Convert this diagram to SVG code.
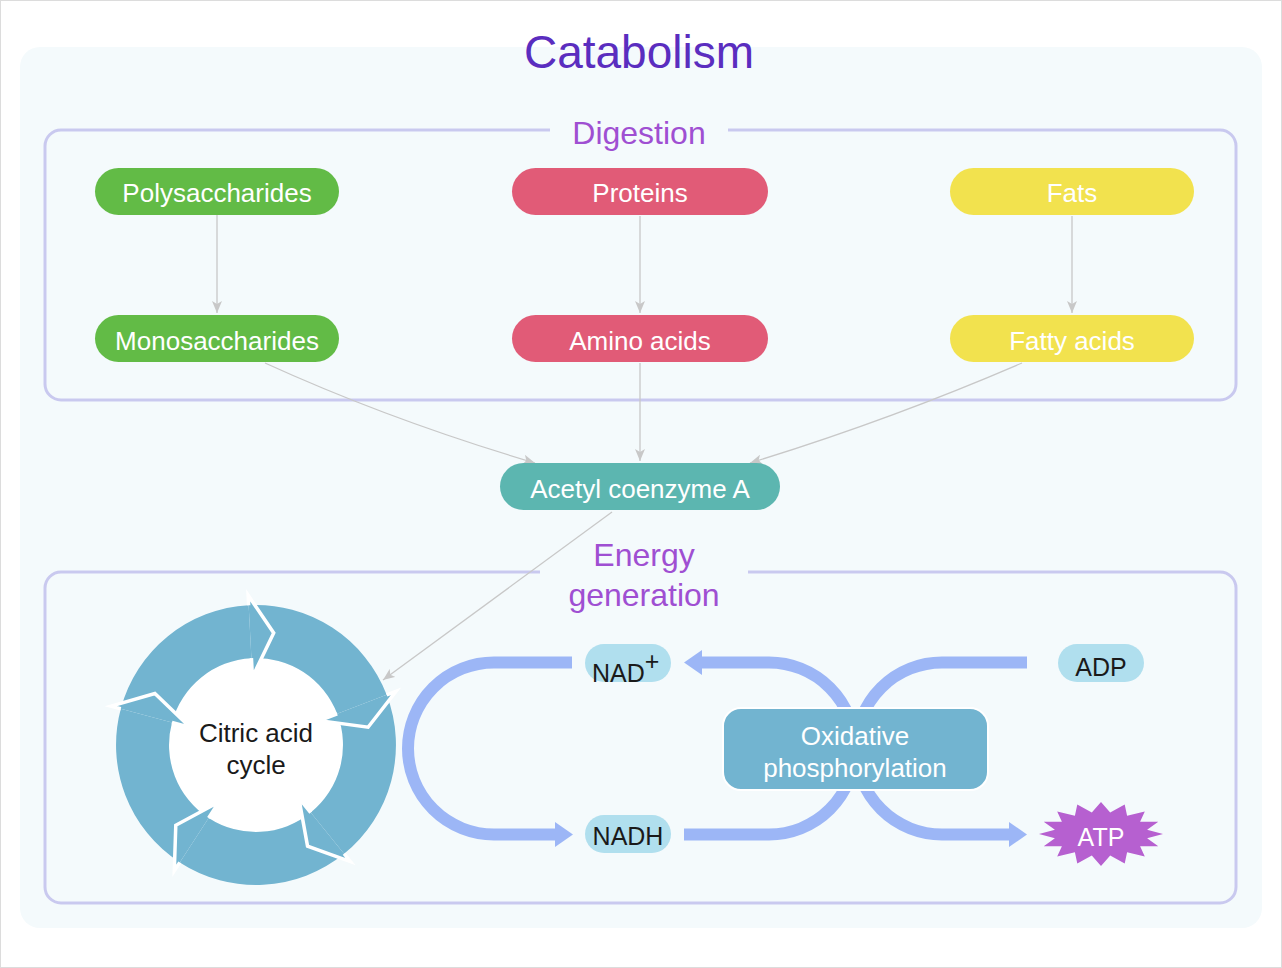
<svg xmlns="http://www.w3.org/2000/svg" xmlns:xlink="http://www.w3.org/1999/xlink" width="1282" height="968" viewBox="0 0 1282 968">
<style>
text{font-family:"Liberation Sans",Arial,sans-serif}
.nt{font-size:26px;fill:#fff;text-anchor:middle}
.bt{font-size:25px;fill:#1a1a1a}
.grp{fill:none;stroke:#c9c9ef;stroke-width:3}
.ttl{font-size:32px;fill:#9f4fd2;text-anchor:middle}
.con{fill:none;stroke:#c8c8c8;stroke-width:1.3}
.fat{fill:none;stroke:#9cb6f6;stroke-width:12}
.ah{fill:#9cb6f6}
.ring{fill:#72b4d0}
.chev{fill:none;stroke:#fff;stroke-width:3.5;stroke-linejoin:miter}
</style>
<defs>
<marker id="ga" viewBox="0 0 12 10" refX="12" refY="5" markerWidth="12" markerHeight="10" markerUnits="userSpaceOnUse" orient="auto">
<path d="M0,0 L12,5 L0,10 L3,5 Z" fill="#c8c8c8"/>
</marker>
<path id="body" d="M -29.1,-136.9 A 140 140 0 0 1 121.2,-70 L 75.3,-43.5 A 87 87 0 0 0 -18.1,-85.1 L 0,-113.5 Z"/>
<path id="head" d="M 121.2,-70 L 129.9,-75 L 107.9,-35.1 L 58.9,-34 L 75.3,-43.5 Z"/>
<path id="chev" d="M 121.2,-70 L 129.9,-75 L 107.9,-35.1 L 58.9,-34 L 75.3,-43.5"/>
</defs>
<rect x="0.5" y="0.5" width="1281" height="967" fill="#fff" stroke="#dcdcdc"/>
<rect x="20" y="47" width="1242" height="881" rx="20" fill="#f4fafc"/>
<text x="639" y="68" style="font-size:46px;fill:#5a2dbf;text-anchor:middle">Catabolism</text>

<g id="digestion">
<path class="grp" d="M 550,130 H 61 A 16 16 0 0 0 45,146 V 384 A 16 16 0 0 0 61,400 H 1220 A 16 16 0 0 0 1236,384 V 146 A 16 16 0 0 0 1220,130 H 728"/>
<text class="ttl" x="639" y="144">Digestion</text>
</g>
<g id="energy">
<path class="grp" d="M 540,572 H 61 A 16 16 0 0 0 45,588 V 887 A 16 16 0 0 0 61,903 H 1220 A 16 16 0 0 0 1236,887 V 588 A 16 16 0 0 0 1220,572 H 748"/>
<text class="ttl" x="644" y="566">Energy</text>
<text class="ttl" x="644" y="606">generation</text>
</g>

<g id="connectors">
<line class="con" x1="217" y1="200" x2="217" y2="313" marker-end="url(#ga)"/>
<line class="con" x1="640" y1="216" x2="640" y2="313" marker-end="url(#ga)"/>
<line class="con" x1="1072" y1="216" x2="1072" y2="313" marker-end="url(#ga)"/>
<line class="con" x1="640" y1="363" x2="640" y2="461" marker-end="url(#ga)"/>
<path class="con" d="M 265,363 Q 390,420 535,463" marker-end="url(#ga)"/>
<path class="con" d="M 1022,363 Q 890,420 750,463" marker-end="url(#ga)"/>
<line class="con" x1="612" y1="512" x2="383" y2="680" marker-end="url(#ga)"/>
</g>

<g id="polysaccharides"><rect x="95" y="168" width="244" height="47" rx="23.5" fill="#62bb46"/><text class="nt" x="217" y="202">Polysaccharides</text></g>
<g id="proteins"><rect x="512" y="168" width="256" height="47" rx="23.5" fill="#e15b77"/><text class="nt" x="640" y="202">Proteins</text></g>
<g id="fats"><rect x="950" y="168" width="244" height="47" rx="23.5" fill="#f2e24e"/><text class="nt" x="1072" y="202">Fats</text></g>
<g id="monosaccharides"><rect x="95" y="315" width="244" height="47" rx="23.5" fill="#62bb46"/><text class="nt" x="217" y="350">Monosaccharides</text></g>
<g id="amino-acids"><rect x="512" y="315" width="256" height="47" rx="23.5" fill="#e15b77"/><text class="nt" x="640" y="350">Amino acids</text></g>
<g id="fatty-acids"><rect x="950" y="315" width="244" height="47" rx="23.5" fill="#f2e24e"/><text class="nt" x="1072" y="350">Fatty acids</text></g>
<g id="acetyl-coa"><rect x="500" y="463" width="280" height="47" rx="23.5" fill="#5cb6b0"/><text class="nt" x="640" y="498">Acetyl coenzyme A</text></g>

<g id="citric-acid-cycle">
<circle cx="256" cy="745" r="87" fill="#fff"/>
<g transform="translate(256,745)" class="ring">
<use xlink:href="#body" transform="rotate(-63)"/>
<use xlink:href="#body" transform="rotate(9)"/>
<use xlink:href="#body" transform="rotate(81)"/>
<use xlink:href="#body" transform="rotate(153)"/>
<use xlink:href="#body" transform="rotate(225)"/>
<use xlink:href="#head" transform="rotate(-63)"/>
<use xlink:href="#head" transform="rotate(9)"/>
<use xlink:href="#head" transform="rotate(81)"/>
<use xlink:href="#head" transform="rotate(153)"/>
<use xlink:href="#head" transform="rotate(225)"/>
</g>
<g transform="translate(256,745)" class="chev">
<use xlink:href="#chev" transform="rotate(-63)"/>
<use xlink:href="#chev" transform="rotate(9)"/>
<use xlink:href="#chev" transform="rotate(81)"/>
<use xlink:href="#chev" transform="rotate(153)"/>
<use xlink:href="#chev" transform="rotate(225)"/>
</g>
<text style="font-size:26px;fill:#1a1a1a;text-anchor:middle" x="256" y="742">Citric acid</text>
<text style="font-size:26px;fill:#1a1a1a;text-anchor:middle" x="256" y="774">cycle</text>
</g>

<g id="flow-arrows">
<path class="fat" d="M 572,662.5 L 494,662.5 A 86 86 0 0 0 494,834.5 L 557,834.5"/>
<polygon class="ah" points="555,822 573,834.5 555,847"/>
<path class="fat" d="M 855,748.5 A 86 86 0 0 0 769,662.5 L 700,662.5"/>
<polygon class="ah" points="702,650 684,662.5 702,675"/>
<path class="fat" d="M 684,834.5 L 769,834.5 A 86 86 0 0 0 855,748.5"/>
<path class="fat" d="M 1027,662.5 L 942,662.5 A 86 86 0 0 0 856,748.5"/>
<path class="fat" d="M 856,748.5 A 86 86 0 0 0 942,834.5 L 1011,834.5"/>
<polygon class="ah" points="1009,822 1027,834.5 1009,847"/>
</g>

<g id="nad-plus"><rect x="585" y="644" width="86" height="38" rx="19" fill="#b0dfee"/><text class="bt" x="592" y="682">NAD<tspan dy="-12">+</tspan></text></g>
<g id="nadh"><rect x="585" y="815" width="86" height="38" rx="19" fill="#b0dfee"/><text class="bt" x="628" y="845" text-anchor="middle">NADH</text></g>
<g id="adp"><rect x="1058" y="644" width="86" height="38" rx="19" fill="#b0dfee"/><text class="bt" x="1101" y="676" text-anchor="middle">ADP</text></g>
<g id="oxidative-phosphorylation"><rect x="723" y="708" width="265" height="82" rx="18" fill="#72b4d0" stroke="#fff" stroke-width="2"/><text class="nt" x="855" y="745">Oxidative</text><text class="nt" x="855" y="777">phosphorylation</text></g>
<g id="atp">
<polygon fill="#b660d0" points="1163,834 1147.1,838.3 1158.3,846.2 1140.1,846.2 1144.8,856.6 1127.1,852.3 1124.7,863.6 1110.2,855.6 1101,866 1091.8,855.6 1077.3,863.6 1074.9,852.3 1057.2,856.6 1061.9,846.2 1043.7,846.2 1054.9,838.3 1039,834 1054.9,829.7 1043.7,821.8 1061.9,821.8 1057.2,811.4 1074.9,815.7 1077.3,804.4 1091.8,812.4 1101,802 1110.2,812.4 1124.7,804.4 1127.1,815.7 1144.8,811.4 1140.1,821.8 1158.3,821.8 1147.1,829.7"/>
<text x="1101" y="846" style="font-size:25px;fill:#fff;text-anchor:middle">ATP</text>
</g>
</svg>
